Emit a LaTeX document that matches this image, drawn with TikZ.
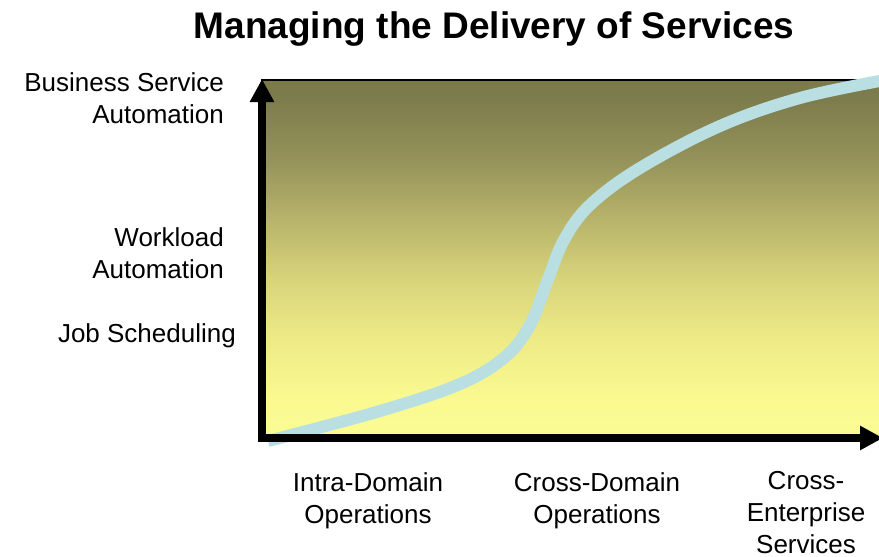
\documentclass[tikz,border=0pt]{standalone}
\usepackage{fontspec}
\setmainfont{Liberation Sans}
\usetikzlibrary{arrows.meta}
\definecolor{g0}{HTML}{FBFB95}
\definecolor{g1}{HTML}{FAFA90}
\definecolor{g2}{HTML}{EEEB87}
\definecolor{g3}{HTML}{D8D47B}
\definecolor{g4}{HTML}{B8B46B}
\definecolor{g5}{HTML}{95935A}
\definecolor{g6}{HTML}{7D7C4C}
\definecolor{g7}{HTML}{7A7A4A}
\definecolor{curvecol}{HTML}{B9DFE3}
\pgfdeclareverticalshading{bgshade}{100bp}{color(0bp)=(g0); color(25bp)=(g0); color(30.2bp)=(g1); color(38.6bp)=(g2); color(47bp)=(g3); color(55.4bp)=(g4); color(63.8bp)=(g5); color(72.2bp)=(g6); color(75bp)=(g7); color(100bp)=(g7)}
\tikzset{
  lbl/.style={font=\fontsize{26}{32}\selectfont, inner sep=0pt},
  axisline/.style={line width=7.5pt, -{Triangle[length=23pt,width=23pt]}},
}
\begin{document}
\begin{tikzpicture}[x=1pt,y=-1pt]
\useasboundingbox (0,0) rectangle (879,557);
% background panel
\path[shading=bgshade, draw=black, line width=2.5pt] (262,80) rectangle (890,437);
% curve
\draw[curvecol, line width=12pt, line cap=butt] plot[smooth, tension=0.6] coordinates {(268,441) (380,411) (460,384) (505,357) (530,325) (547,282) (564,240) (590,205) (640,168) (720,126) (800,98) (885,80)};
% axes
\coordinate (ytop) at (262,79);
\coordinate (xend) at (883,438);
\coordinate (ybot) at (262,442);
\coordinate (xbeg) at (258.5,438);
\draw[axisline] (ybot) -- (ytop);
\draw[axisline] (xbeg) -- (xend);
% title
\node[font=\fontsize{37}{44}\selectfont\bfseries, inner sep=0pt, anchor=base] (title) at (494,38) {Managing the Delivery of Services};
% y labels (base anchor = baseline of last line)
\node[lbl, align=right, anchor=base east] (bsa) at (224,123.5) {Business Service\\Automation};
\node[lbl, align=right, anchor=base east] (wla) at (224,278) {Workload\\Automation};
\node[lbl, anchor=base east] (js) at (236,342) {Job Scheduling};
% x labels
\node[lbl, align=center, anchor=base] (ido) at (368,523) {Intra-Domain\\Operations};
\node[lbl, align=center, anchor=base] (cdo) at (597,523) {Cross-Domain\\Operations};
\node[lbl, align=center, anchor=base] (ces) at (806,553) {Cross-\\Enterprise\\Services};
\end{tikzpicture}
\end{document}
